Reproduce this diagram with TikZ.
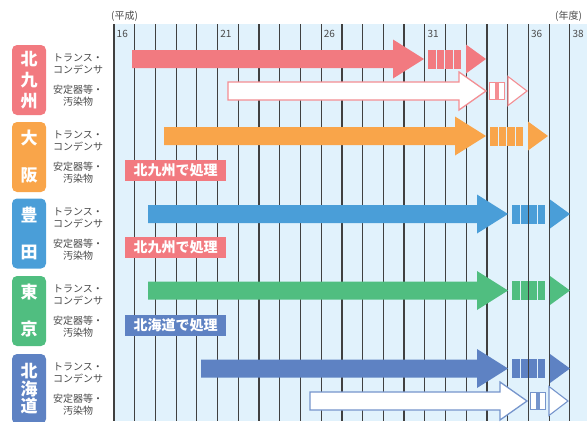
\documentclass[tikz,border=0pt]{standalone}
\usepackage{fontspec}
\setmainfont{Noto Sans CJK JP}
\definecolor{kpink}{HTML}{F27A80}
\definecolor{korange}{HTML}{F9A54A}
\definecolor{kblue}{HTML}{4A9ED8}
\definecolor{kgreen}{HTML}{50BE80}
\definecolor{knavy}{HTML}{5E82C3}
\definecolor{kbg}{HTML}{E1F2FC}
\definecolor{ktext}{HTML}{4A4A4A}

% filled arrow: colour, start x, tip x, centre y
\newcommand{\transarrow}[4]{%
  \fill[#1] (#2,#4-9) -- (#3-31,#4-9) -- (#3-31,#4-19.5) -- (#3,#4)
    -- (#3-31,#4+19.5) -- (#3-31,#4+9) -- (#2,#4+9) -- cycle;
  \foreach \i in {0,1,2,3}
    \fill[#1] (#3+4+\i*8.5,#4-9.5) rectangle ++(7.5,19);
  \fill[#1] (#3+42,#4-14.5) -- (#3+62,#4) -- (#3+42,#4+14.5) -- cycle;
}
% outlined arrow: colour, start x, tip x, centre y
\newcommand{\stablearrow}[4]{%
  \draw[#1, line width=1.3, fill=white] (#2,#4-9) -- (#3-27,#4-9) -- (#3-27,#4-19) -- (#3,#4)
    -- (#3-27,#4+19) -- (#3-27,#4+9) -- (#2,#4+9) -- cycle;
  \foreach \i in {0,1}
    \draw[#1, line width=1.1, fill=white] (#3+3.5+\i*8.5,#4-8.5) rectangle ++(6.5,17);
  \draw[#1, line width=1.1, fill=white] (#3+22,#4-14.5) -- (#3+41,#4) -- (#3+22,#4+14.5) -- cycle;
}

\begin{document}
\begin{tikzpicture}[x=1pt, y=-1pt,
   citybox/.style={rounded corners=5, minimum width=34, minimum height=70, inner sep=0,
                   text=white, align=center, font=\bfseries\fontsize{17}{21}\selectfont},
   sidelabel/.style={text=ktext, align=center, inner sep=0, font=\fontsize{10}{12}\selectfont},
   procbox/.style={minimum width=101, minimum height=21, inner sep=0,
                   text=white, font=\bfseries\fontsize{14}{14}\selectfont},
   yearlabel/.style={anchor=west, text=ktext, inner sep=0, font=\fontsize{10}{10}\selectfont},
   gridline/.style={draw=black!75, line width=1.2}]

\useasboundingbox (0,0) rectangle (587,421);

% grid
\fill[kbg] (114,24) rectangle (587,421);
\foreach \n in {0,...,22}
   \draw[gridline] (114+\n*20.72,24) -- (114+\n*20.72,421);
\foreach \yr in {16,21,26,31,36,38}
   \node[yearlabel] (y\yr) at ({116.5+(\yr-16)*20.72},34) {\yr};
\node[yearlabel] (era) at (111,16) {(平成)};
\node[yearlabel] (fy) at (555,16) {(年度)};

% city boxes
\node[citybox, fill=kpink] (kita) at (29,80) {北\\九\\州};
\node[citybox, fill=korange] (osaka) at (29,157) {大\\[16pt]阪};
\node[citybox, fill=kblue] (toyota) at (29,233.5) {豊\\[16pt]田};
\node[citybox, fill=kgreen] (tokyo) at (29,311) {東\\[16pt]京};
\node[citybox, fill=knavy, font=\bfseries\fontsize{17}{17.5}\selectfont] (hokkaido) at (29,389) {北\\海\\道};

% side labels
\foreach \row/\ty in {kita/64, osaka/141, toyota/218, tokyo/295, hokkaido/373}{
   \node[sidelabel] (\row-tr) at (78,\ty) {トランス・\\コンデンサ};
   \node[sidelabel] (\row-st) at (78,\ty+32) {安定器等・\\汚染物};
}

% arrows
\transarrow{kpink}{132}{424}{59}
\stablearrow{kpink!85}{228}{486}{91}
\transarrow{korange}{164}{486}{136}
\transarrow{kblue}{148}{508}{214}
\transarrow{kgreen}{148}{508}{290.5}
\transarrow{knavy}{201}{508}{368.5}
\stablearrow{knavy!85}{310}{527}{401}

% processed elsewhere
\node[procbox, fill=kpink] (osaka-proc) at (175.5,170.5) {北九州で処理};
\node[procbox, fill=kpink] (toyota-proc) at (175.5,247.5) {北九州で処理};
\node[procbox, fill=knavy] (tokyo-proc) at (175.5,325) {北海道で処理};

\end{tikzpicture}
\end{document}
